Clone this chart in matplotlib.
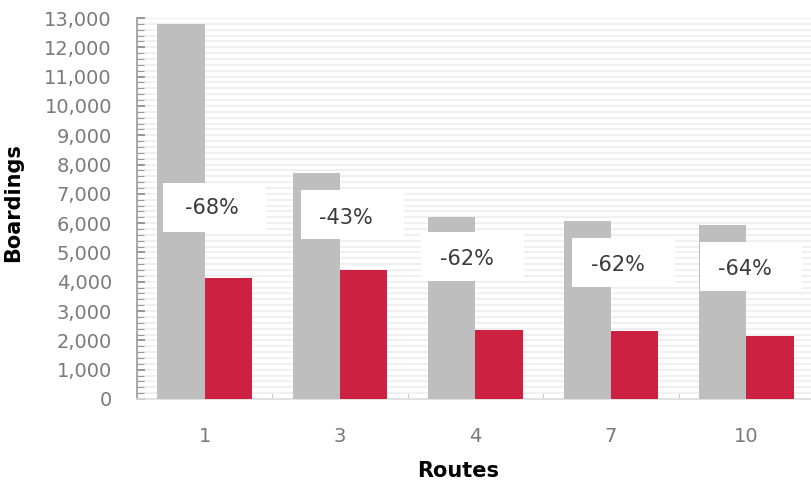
import matplotlib
matplotlib.use("Agg")
import matplotlib.pyplot as plt
from matplotlib.patches import Rectangle
from matplotlib.ticker import MultipleLocator, FuncFormatter
import numpy as np

routes = ["1", "3", "4", "7", "10"]
before = [12800, 7700, 6220, 6070, 5940]
after = [4130, 4400, 2350, 2330, 2150]
pct_labels = ["-68%", "-43%", "-62%", "-62%", "-64%"]

# label box layout (x offset from category centre, y centre in data units)
box_dx = [0.07, 0.09, -0.02, 0.09, 0.035]
box_y = [6536, 6297, 4863, 4659, 4522]
text_dx = [0.054, 0.04, -0.06, 0.05, -0.01]
text_y = [6519, 6177, 4778, 4573, 4437]

FONT = ["DejaVu Sans"]

fig = plt.figure(figsize=(8.12, 4.83), dpi=100)
ax = fig.add_axes([137/812, 1-399/483, 677/812, (399-18)/483])

x = np.arange(len(routes))
w = 0.35
ax.bar(x - w/2, before, width=w, color="#bebebe", zorder=3, linewidth=0)
ax.bar(x + w/2, after, width=w, color="#cd2142", zorder=3, linewidth=0)

ax.set_xlim(-0.5, len(routes) - 0.5)
ax.set_ylim(0, 13000)

# gridlines every 200
ax.yaxis.set_major_locator(MultipleLocator(1000))
ax.yaxis.set_minor_locator(MultipleLocator(200))
ax.grid(which="both", axis="y", color="#f0f0f0", linewidth=1.5, zorder=0)
ax.set_axisbelow(True)

ax.yaxis.set_major_formatter(FuncFormatter(lambda v, p: f"{int(v):,}"))
ax.tick_params(axis="y", which="major", direction="in", length=6, width=1.2,
               color="#888888", labelcolor="#7a7a7a", labelsize=14, pad=18)
ax.tick_params(axis="y", which="minor", direction="in", length=5, width=0.8,
               color="#999999")

ax.set_xticks(x)
ax.set_xticklabels(routes)
ax.set_xticks(np.arange(len(routes) - 1) + 0.5, minor=True)
ax.tick_params(axis="x", which="major", length=0, labelcolor="#7a7a7a",
               labelsize=14, pad=20)
ax.tick_params(axis="x", which="minor", direction="in", length=5, width=0.8,
               color="#cccccc")

for s in ["top", "right"]:
    ax.spines[s].set_visible(False)
ax.spines["left"].set_color("#999999")
ax.spines["left"].set_linewidth(1.2)
ax.spines["bottom"].set_color("#dddddd")
ax.spines["bottom"].set_linewidth(1.2)

for lab in ax.get_xticklabels() + ax.get_yticklabels():
    lab.set_fontfamily(FONT)

ax.set_ylabel("Boardings", fontsize=15, fontweight="bold", family=FONT)
ax.yaxis.set_label_coords(-0.168, 0.515)
ax.set_xlabel("Routes", fontsize=15, fontweight="bold", family=FONT)
ax.xaxis.set_label_coords(0.474, -0.163)

bw = 0.76
bh = 1672
for i in range(len(routes)):
    cx = x[i] + box_dx[i]
    ax.add_patch(Rectangle((cx - bw/2, box_y[i] - bh/2), bw, bh,
                           facecolor="white", edgecolor="none", zorder=5))
    ax.text(x[i] + text_dx[i], text_y[i], pct_labels[i], ha="center",
            va="center", fontsize=15, color="#3a3a3a", zorder=6,
            family=FONT)

fig.savefig("out.png", dpi=100)
